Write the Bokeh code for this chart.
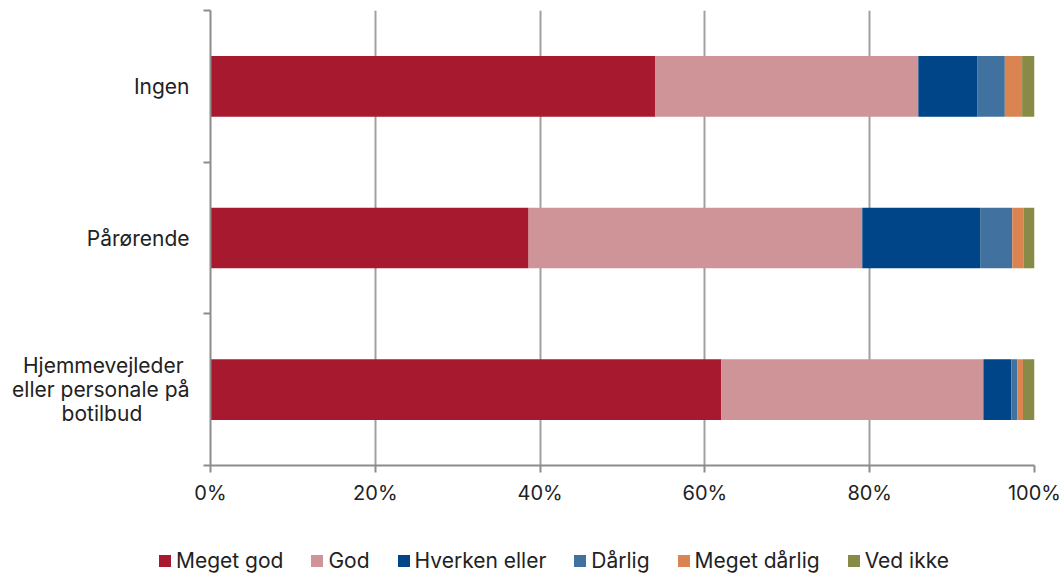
from bokeh.plotting import figure
from bokeh.layouts import column, row
from bokeh.models import FixedTicker, Range1d, Legend, LegendItem, ColumnDataSource
from bokeh.embed import file_html
from bokeh.resources import INLINE

NB = "\u00a0"
categories = ["Hjemmevejleder" + NB, "eller personale på", "botilbud" + NB * 8]
categories = ["\n".join(categories), "Pårørende", "Ingen"]
series = ["Meget god", "God", "Hverken eller", "Dårlig", "Meget dårlig", "Ved ikke"]
colors = ["#A6192E", "#CF9498", "#004587", "#41729F", "#DA8452", "#878B45"]
meget_god = [62.0, 38.6, 54.0]
god = [31.8, 40.5, 31.9]
hverken = [3.4, 14.3, 7.2]
daarlig = [0.7, 3.9, 3.3]
meget_daarlig = [0.7, 1.4, 2.1]
ved_ikke = [1.4, 1.3, 1.5]
x_ticks = [0, 20, 40, 60, 80, 100]
x_tick_labels = ["0%", "20%", "40%", "60%", "80%", "100%"]

values = [meget_god, god, hverken, daarlig, meget_daarlig, ved_ikke]
ypos = [i + 0.5 for i in range(len(categories))]

FONT = "Inter"
MAIN_H = 512
LEG_H = 62
BORDER_L = 210
BORDER_R = 30

p = figure(width=1064, height=MAIN_H, output_backend="svg", toolbar_location=None,
           x_range=Range1d(0, 100), y_range=Range1d(0, 3),
           min_border_left=BORDER_L, min_border_right=BORDER_R, min_border_top=10,
           min_border_bottom=MAIN_H - 465)
p.outline_line_color = None
p.background_fill_color = "white"

left = [0.0] * len(categories)
for name, vals, col in zip(series, values, colors):
    right = [l + v for l, v in zip(left, vals)]
    src = ColumnDataSource(dict(y=ypos, left=left, right=right))
    p.hbar(y="y", left="left", right="right", height=0.4, source=src,
           fill_color=col, line_color=None)
    left = right

# x axis
p.xaxis.ticker = FixedTicker(ticks=x_ticks, minor_ticks=[])
p.xaxis.major_label_overrides = {t: l for t, l in zip(x_ticks, x_tick_labels)}
p.xaxis.axis_line_color = "#8C8C8C"
p.xaxis.axis_line_width = 2
p.xaxis.major_tick_line_color = "#8C8C8C"
p.xaxis.major_tick_line_width = 2
p.xaxis.major_tick_out = 7
p.xaxis.major_tick_in = 0
p.xaxis.major_label_text_font = FONT
p.xaxis.major_label_text_font_size = "20px"
p.xaxis.major_label_text_color = "#222222"
p.xaxis.major_label_standoff = 8

# y axis
p.yaxis.ticker = FixedTicker(ticks=ypos, minor_ticks=[0, 1, 2, 3])
p.yaxis.major_label_overrides = {y: c for y, c in zip(ypos, categories)}
p.yaxis.axis_line_color = "#8C8C8C"
p.yaxis.axis_line_width = 2
p.yaxis.major_tick_line_color = None
p.yaxis.minor_tick_line_color = "#8C8C8C"
p.yaxis.minor_tick_line_width = 2
p.yaxis.minor_tick_out = 7
p.yaxis.minor_tick_in = 0
p.yaxis.major_label_text_font = FONT
p.yaxis.major_label_text_font_size = "21px"
p.yaxis.major_label_text_color = "#222222"
p.yaxis.major_label_text_line_height = 0.95
p.yaxis.major_label_standoff = 14

p.xgrid.ticker = FixedTicker(ticks=x_ticks)
p.xgrid.grid_line_color = "#A0A0A0"
p.xgrid.grid_line_width = 2
p.ygrid.grid_line_color = None

# legend figure
lf = figure(width=1064, height=LEG_H, output_backend="svg", toolbar_location=None,
            x_range=Range1d(0, 1), y_range=Range1d(0, 1),
            x_axis_location=None, y_axis_location=None,
            min_border_left=0, min_border_right=0,
            min_border_top=0, min_border_bottom=0)
lf.outline_line_color = None
lf.xgrid.grid_line_color = None
lf.ygrid.grid_line_color = None
items = []
for name, col in zip(series, colors):
    r = lf.hbar(y=[-10], left=[-10], right=[-9], height=0.4, fill_color=col, line_color=None)
    items.append(LegendItem(label=name, renderers=[r]))

legend = Legend(items=items, orientation="horizontal", location=(157, 1),
                label_text_font=FONT, label_text_font_size="21px",
                label_text_color="#222222", glyph_width=15, glyph_height=15,
                label_height=20, label_standoff=4, spacing=26, padding=0, margin=0,
                border_line_color=None, background_fill_alpha=0)
lf.add_layout(legend, "center")

open("out.html", "w").write(file_html(column(p, row(lf)), INLINE))
